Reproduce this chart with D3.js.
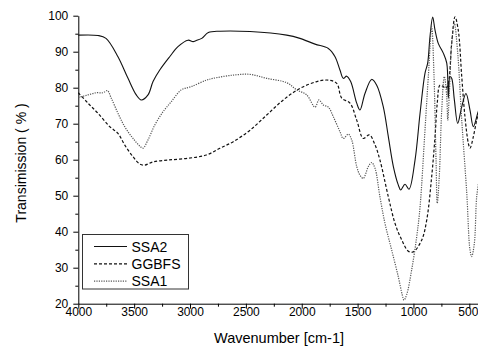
<!DOCTYPE html>
<html>
<head>
<meta charset="utf-8">
<script src="https://cdn.jsdelivr.net/npm/d3@7"></script>
<style>
  body { margin: 0; background: #fff; }
  svg { display: block; font-family: "Liberation Sans", Arial, sans-serif; }
</style>
</head>
<body>
<div id="chart"></div>
<script>
var ssa2Wn = [4000, 3824, 3752, 3645, 3555, 3481, 3436, 3376, 3331, 3271, 3182, 3108, 3018, 2973, 2944, 2895, 2836, 2732, 2463, 2135, 2016, 1881, 1762, 1702, 1658, 1628, 1598, 1562, 1508, 1479, 1434, 1374, 1329, 1270, 1225, 1180, 1136, 1114, 1076, 1040, 986, 941, 897, 873, 852, 828, 807, 778, 733, 702, 688, 673, 658, 634, 604, 568, 530, 494, 464, 425, 405];
var ssa2T  = [94.6, 94.5, 93.7, 88.6, 82.6, 78.0, 76.6, 78.0, 81.7, 84.9, 88.6, 91.4, 93.2, 92.8, 93.1, 93.7, 95.3, 95.7, 95.6, 94.6, 93.7, 92.1, 90.9, 88.6, 84.9, 82.6, 83.2, 81.7, 75.7, 73.8, 78.4, 82.3, 80.7, 74.7, 66.4, 58.1, 53.0, 51.6, 53.2, 51.8, 59.9, 72.9, 84.0, 86.8, 94.2, 99.6, 96.0, 92.3, 89.6, 86.8, 77.1, 83.1, 82.6, 76.6, 70.1, 74.7, 78.4, 73.8, 69.2, 72.9, 75.0];

var ggbfsWn = [4000, 3913, 3824, 3719, 3645, 3585, 3510, 3450, 3406, 3331, 3197, 3018, 2854, 2732, 2613, 2463, 2314, 2165, 2016, 1866, 1762, 1687, 1642, 1568, 1508, 1449, 1395, 1344, 1300, 1225, 1165, 1105, 1046, 1001, 926, 881, 837, 807, 787, 763, 733, 711, 688, 658, 628, 599, 568, 539, 509, 494, 464, 434, 410];
var ggbfsT  = [78.6, 75.7, 72.9, 69.2, 67.3, 64.1, 60.8, 58.8, 58.5, 59.4, 59.9, 60.4, 61.3, 63.2, 65.0, 68.2, 72.4, 76.6, 79.8, 81.7, 82.1, 81.2, 77.1, 75.7, 71.0, 65.9, 66.9, 64.1, 59.9, 49.7, 42.3, 37.7, 34.6, 34.4, 37.7, 43.3, 55.3, 66.4, 75.7, 80.7, 80.3, 79.8, 81.2, 92.3, 99.7, 96.0, 83.1, 71.9, 64.6, 63.2, 66.4, 71.0, 74.0];

var ssa1Wn = [4000, 3913, 3839, 3779, 3740, 3705, 3645, 3585, 3510, 3450, 3421, 3376, 3316, 3242, 3168, 3078, 2989, 2854, 2792, 2613, 2463, 2314, 2135, 2045, 1956, 1881, 1846, 1807, 1762, 1717, 1658, 1628, 1583, 1553, 1508, 1479, 1449, 1404, 1374, 1344, 1300, 1255, 1195, 1136, 1100, 1085, 1060, 1016, 971, 941, 897, 867, 837, 816, 798, 787, 769, 747, 724, 702, 693, 679, 658, 634, 604, 568, 523, 494, 479, 455, 434, 410];
var ssa1T  = [77.3, 78.0, 78.6, 78.6, 79.2, 77.1, 72.9, 69.2, 65.9, 63.8, 63.2, 65.5, 69.6, 73.3, 76.1, 79.4, 80.3, 82.1, 82.6, 83.5, 83.7, 82.6, 81.4, 79.4, 78.0, 74.6, 76.6, 75.2, 74.6, 71.9, 67.8, 65.9, 67.1, 65.5, 58.1, 55.7, 54.8, 58.1, 59.2, 57.6, 49.7, 42.3, 34.9, 27.5, 22.4, 21.0, 22.6, 29.4, 38.6, 46.9, 68.2, 83.1, 96.9, 83.1, 59.9, 47.9, 55.3, 73.8, 83.1, 77.5, 71.0, 78.4, 92.3, 97.9, 89.6, 71.0, 50.7, 34.9, 33.1, 36.8, 49.7, 55.0];

var seriesNames = ["SSA2", "GGBFS", "SSA1"];
var xTicks = [4000, 3500, 3000, 2500, 2000, 1500, 1000, 500];
var xMinor = [3750, 3250, 2750, 2250, 1750, 1250, 750];
var yTicks = [20, 30, 40, 50, 60, 70, 80, 90, 100];
var yMinor = [25, 35, 45, 55, 65, 75, 85, 95];

var width = 478, height = 352;

var svg = d3.select("#chart")
            .append("svg")
            .attr("width", width)
            .attr("height", height);

// escalas
var xScale = d3.scaleLinear().domain([4000, 400]).range([78.3, 480.5]);
var yScale = d3.scaleLinear().domain([20, 100]).range([303.7, 15.7]);

// eixo x
var xAxis = svg.append("g")
   .attr("transform", "translate(0," + yScale(20) + ")")
   .call(d3.axisBottom(xScale).tickValues(xTicks).tickFormat(d3.format("d")).tickSize(5).tickSizeOuter(0));
xAxis.selectAll("text").attr("y", 4).style("font-size", "12px").attr("fill", "#000");
xAxis.selectAll("line, path").attr("stroke", "#000");
// o ultimo rotulo encosta na borda
xAxis.selectAll(".tick text").filter(function(d) { return d === 500; }).attr("dx", "-1.5");

svg.append("g")
   .attr("transform", "translate(0," + yScale(20) + ")")
   .call(d3.axisBottom(xScale).tickValues(xMinor).tickFormat("").tickSize(3).tickSizeOuter(0))
   .select(".domain").remove();

// eixo y
var yAxis = svg.append("g")
   .attr("transform", "translate(" + xScale(4000) + ",0)")
   .call(d3.axisLeft(yScale).tickValues(yTicks).tickSize(5).tickPadding(5).tickSizeOuter(0));
yAxis.selectAll("text").style("font-size", "12px").attr("fill", "#000");
yAxis.selectAll("line, path").attr("stroke", "#000");

svg.append("g")
   .attr("transform", "translate(" + xScale(4000) + ",0)")
   .call(d3.axisLeft(yScale).tickValues(yMinor).tickFormat("").tickSize(3).tickSizeOuter(0))
   .select(".domain").remove();

// curvas
var line = d3.line()
   .x(function(d) { return xScale(d[0]); })
   .y(function(d) { return yScale(d[1]); })
   .curve(d3.curveCatmullRom.alpha(0.5));

var styles = [
  { color: "#111", dash: null, w: 1.1 },
  { color: "#111", dash: "3,2", w: 1.2 },
  { color: "#555", dash: "1.2,1.2", w: 1.2 }
];

var series = [
  d3.zip(ssa2Wn, ssa2T),
  d3.zip(ggbfsWn, ggbfsT),
  d3.zip(ssa1Wn, ssa1T)
];

series.forEach(function(s, i) {
  svg.append("path")
     .datum(s)
     .attr("d", line)
     .attr("fill", "none")
     .attr("stroke", styles[i].color)
     .attr("stroke-width", styles[i].w)
     .attr("stroke-dasharray", styles[i].dash);
});

// legenda
var legend = svg.append("g");
legend.append("rect")
   .attr("x", 82.5).attr("y", 234.5)
   .attr("width", 106).attr("height", 54.5)
   .attr("fill", "#fff")
   .attr("stroke", "#333");

seriesNames.forEach(function(name, i) {
  var ly = 246.5 + i * 17.3;
  legend.append("line")
     .attr("x1", 94).attr("x2", 127)
     .attr("y1", ly).attr("y2", ly)
     .attr("stroke", styles[i].color)
     .attr("stroke-width", styles[i].w)
     .attr("stroke-dasharray", styles[i].dash);
  legend.append("text")
     .attr("x", 131.5)
     .attr("y", ly + 5)
     .text(name)
     .style("font-size", "14px");
});

// rotulos dos eixos
svg.append("text")
   .attr("x", 279)
   .attr("y", 343)
   .attr("text-anchor", "middle")
   .text("Wavenumber [cm-1]")
   .style("font-size", "14.5px");

svg.append("text")
   .attr("x", -163)
   .attr("y", 26)
   .attr("transform", "rotate(-90)")
   .attr("text-anchor", "middle")
   .text("Transimission ( % )")
   .style("font-size", "14px");
</script>
</body>
</html>
